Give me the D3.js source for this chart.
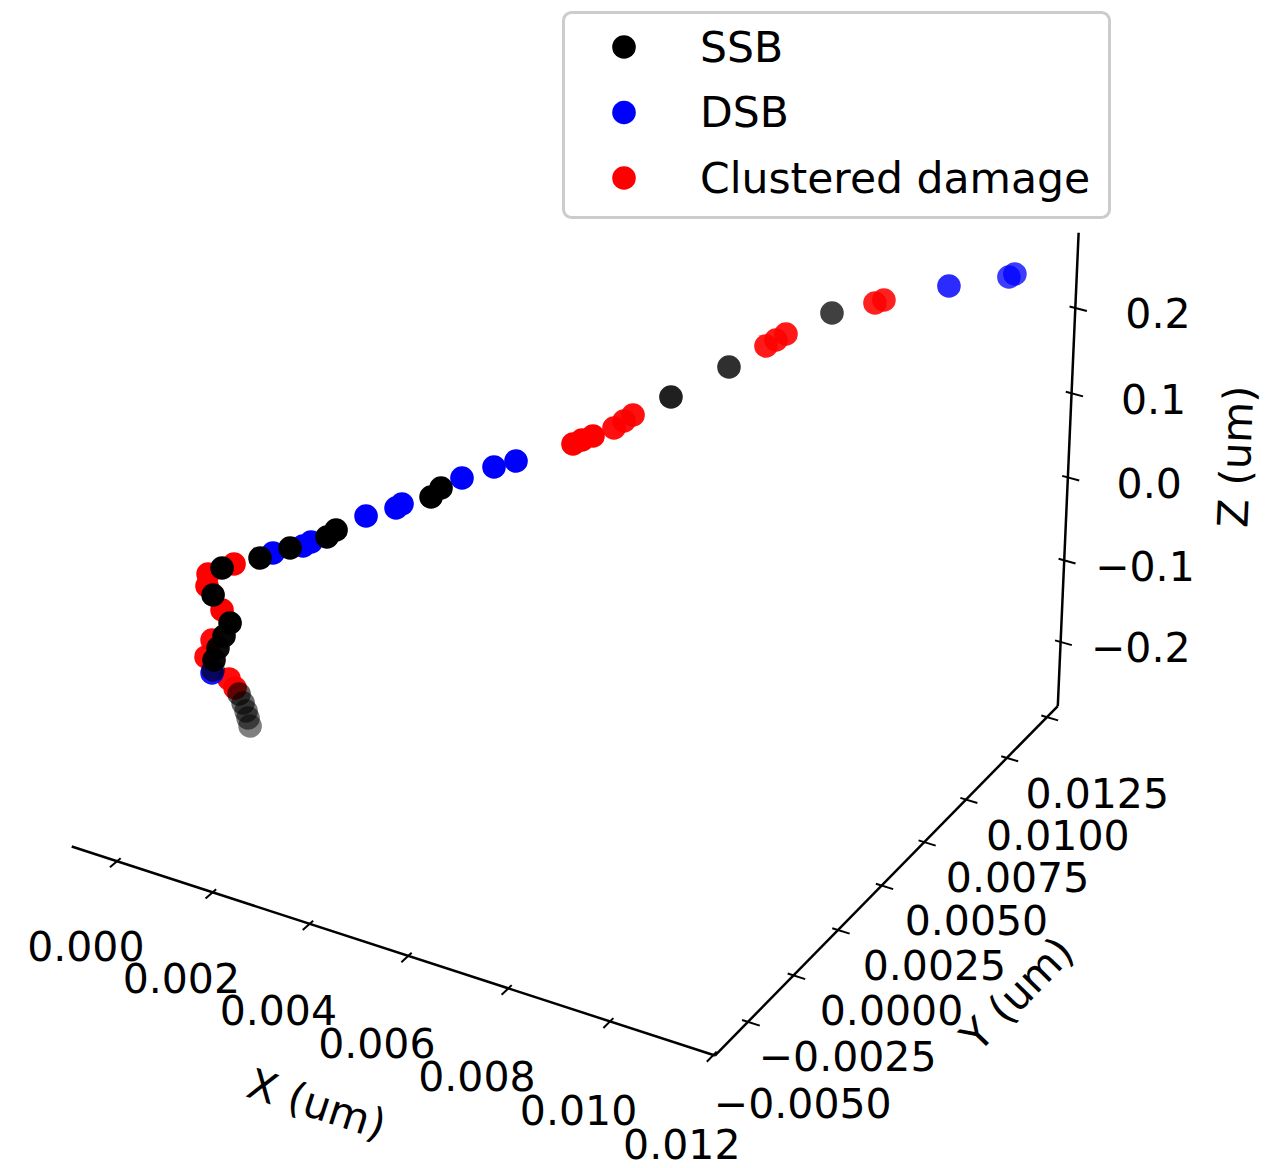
<!DOCTYPE html>
<html>
<head>
<meta charset="utf-8">
<script src="https://cdn.jsdelivr.net/npm/d3@7"></script>
<style>
  html, body { margin: 0; padding: 0; background: #ffffff; }
  svg { display: block; font-family: "DejaVu Sans", "Liberation Sans", sans-serif; }
</style>
</head>
<body>
<svg id="chart" width="1281" height="1168"></svg>
<script>
// ---- Damage sites along the DNA track: [x, y, z] in micrometres ----
const categories = ["SSB", "DSB", "Clustered damage"];
const colors = ["#000000", "#0000ff", "#ff0000"];

const ssb = [
  [0.008477, 0.009376, 0.20562], [0.007524, 0.006266, 0.18291], [0.007115, 0.004199, 0.17875],
  [0.004825, -0.001868, 0.14807], [0.004716, -0.002102, 0.14033], [0.003451, -0.003726, 0.11193],
  [0.003347, -0.003924, 0.10591], [0.002847, -0.004535, 0.09644], [0.002445, -0.005043, 0.08783],
  [0.001926, -0.005656, 0.07923], [0.001908, -0.006081, 0.05600], [0.002279, -0.006176, 0.03190],
  [0.002083, -0.006028, 0.01055], [0.001937, -0.005994, -0.00660], [0.001929, -0.006184, -0.01698],
  [-0.000208, -0.001325, -0.16238], [0.000302, -0.001254, -0.18399], [0.000137, -0.000683, -0.20934],
  [-0.000048, -0.000114, -0.23385], [0.000015, -0.000171, -0.24022], [-0.000184, 0.000383, -0.26483]
];

const dsb = [
  [0.011184, 0.012032, 0.24636], [0.011106, 0.011916, 0.24370], [0.010589, 0.009887, 0.26035],
  [0.005820, -0.000576, 0.17131], [0.005520, -0.000933, 0.16615], [0.005093, -0.001479, 0.15668],
  [0.004316, -0.002563, 0.13431], [0.004245, -0.002687, 0.13086], [0.003835, -0.003172, 0.12398],
  [0.003132, -0.004191, 0.10161], [0.003030, -0.004341, 0.09816], [0.002616, -0.004815, 0.09214],
  [0.001685, -0.005736, -0.04533]
];

const clustered = [
  [0.009896, 0.008161, 0.26351], [0.009774, 0.008007, 0.26089], [0.008712, 0.006052, 0.24316],
  [0.008588, 0.005850, 0.23793], [0.008464, 0.005648, 0.23270], [0.007014, 0.002418, 0.18855],
  [0.006905, 0.002230, 0.18335], [0.006786, 0.002017, 0.17729], [0.006853, 0.000720, 0.19282],
  [0.006707, 0.000530, 0.18938], [0.006591, 0.000367, 0.18594], [0.002086, -0.005453, 0.08268],
  [0.001744, -0.005908, 0.07407], [0.001780, -0.006058, 0.06374], [0.002105, -0.006134, 0.04309],
  [0.001814, -0.005982, 0.00032], [0.001797, -0.006255, -0.01438], [0.002234, -0.006203, -0.03341],
  [0.002362, -0.006227, -0.04120]
];

// ---- Axes ----
const xLimits = [-0.00096, 0.01203];
const yLimits = [-0.00678, 0.01319];
const zLimits = [-0.2795, 0.2869];
const xTicks = [0, 0.002, 0.004, 0.006, 0.008, 0.010, 0.012];
const yTicks = [-0.005, -0.0025, 0, 0.0025, 0.005, 0.0075, 0.010, 0.0125];
const zTicks = [-0.2, -0.1, 0, 0.1, 0.2];
const axisTitles = ["X (um)", "Y (um)", "Z (um)"];

// ---- View (elevation / azimuth in degrees, perspective eye distance) ----
const view = { elev: 30, azim: -60, dist: 10 };
const half = [0.5714, 0.5714, 0.4286];      // half box size for a 4:4:3 aspect
const zoom = 645, origin = [573.5, 540.6];  // pixel scale and centre of the box

const W = 1281, H = 1168;
const tickFont = 41, labelFont = 42, legendFont = 42.5;

const sx = d3.scaleLinear().domain(xLimits).range([-half[0], half[0]]);
const sy = d3.scaleLinear().domain(yLimits).range([-half[1], half[1]]);
const sz = d3.scaleLinear().domain(zLimits).range([-half[2], half[2]]);

const el = view.elev * Math.PI / 180, az = view.azim * Math.PI / 180;
const right = [-Math.sin(az), Math.cos(az), 0];
const up = [-Math.sin(el) * Math.cos(az), -Math.sin(el) * Math.sin(az), Math.cos(el)];
const toEye = [Math.cos(el) * Math.cos(az), Math.cos(el) * Math.sin(az), Math.sin(el)];
const dot = (a, b) => a[0] * b[0] + a[1] * b[1] + a[2] * b[2];

// box coordinates -> screen pixels (+ depth toward the viewer)
function projectBox(q) {
  const xs = dot(q, right), ys = dot(q, up), d = dot(q, toEye);
  const f = view.dist / (view.dist - d);
  return { x: origin[0] + zoom * xs * f, y: origin[1] - zoom * ys * f, depth: d };
}
function project(x, y, z) { return projectBox([sx(x), sy(y), sz(z)]); }

const svg = d3.select("#chart");
svg.append("rect").attr("width", W).attr("height", H).attr("fill", "#ffffff");

const [bx0, bx1] = sx.range(), [by0, by1] = sy.range(), [bz0, bz1] = sz.range();

// ---- axis lines ----
const axisG = svg.append("g").attr("stroke", "#000").attr("fill", "none");
function seg(g, a, b, w) {
  const p = projectBox(a), q = projectBox(b);
  g.append("line").attr("x1", p.x).attr("y1", p.y).attr("x2", q.x).attr("y2", q.y)
    .attr("stroke-width", w);
  return [p, q];
}
const xAxisEnds = seg(axisG, [bx0, by0, bz0], [bx1, by0, bz0], 2.5);
const yAxisEnds = seg(axisG, [bx1, by0, bz0], [bx1, by1, bz0], 2.5);
const zAxisEnds = seg(axisG, [bx1, by1, bz0], [bx1, by1, bz1], 2.5);

// ---- ticks ----
const tOut = 0.02, tIn = 0.01;
xTicks.forEach(v => seg(axisG, [sx(v), by0 - tOut, bz0], [sx(v), by0 + tIn, bz0], 2));
yTicks.forEach(v => seg(axisG, [bx1 + tOut, sy(v), bz0], [bx1 - tIn, sy(v), bz0], 2));
zTicks.forEach(v => seg(axisG, [bx1 + tOut, by1, sz(v)], [bx1 - tIn, by1, sz(v)], 2));

// ---- tick labels ----
const labelG = svg.append("g").attr("fill", "#000").attr("font-size", tickFont)
  .attr("text-anchor", "middle");
function centredText(g, p, txt, size, angle) {
  g.append("text")
    .attr("transform", `translate(${p.x},${p.y}) rotate(${angle || 0})`)
    .attr("y", 0.36 * size)
    .text(txt);
}
const fx = d3.format(".3f"), fy = d3.format(".4f"), fz = d3.format(".1f");
xTicks.forEach(v => centredText(labelG, projectBox([sx(v), by0 - 0.094, bz0 - 0.104]), fx(v), tickFont));
yTicks.forEach(v => centredText(labelG, projectBox([bx1 + 0.095, sy(v), bz0 - 0.115]), fy(v), tickFont));
zTicks.forEach(v => centredText(labelG, projectBox([bx1 + 0.119, by1 + 0.048, sz(v)]), fz(v), tickFont));

// ---- axis titles, turned along their axes ----
const angleOf = ([p, q]) => Math.atan2(q.y - p.y, q.x - p.x) * 180 / Math.PI;
const titleG = svg.append("g").attr("fill", "#000").attr("font-size", labelFont)
  .attr("text-anchor", "middle");
centredText(titleG, projectBox([0, by0 - 0.2014, bz0 - 0.1643]), axisTitles[0], labelFont, angleOf(xAxisEnds));
centredText(titleG, projectBox([bx1 + 0.2177, 0, bz0 - 0.1500]), axisTitles[1], labelFont, angleOf(yAxisEnds));
centredText(titleG, projectBox([bx1 + 0.2044, by1 + 0.1846, 0]), axisTitles[2], labelFont, angleOf(zAxisEnds));

// ---- scatter with depth shading ----
const series = [ssb, dsb, clustered];
const projected = series.map((pts, i) => pts.map(d => {
  const p = project(d[0], d[1], d[2]);
  return { ...p, cat: i };
}));
const allDepths = projected.flat().map(d => d.depth);
const shade = d3.scaleLinear().domain(d3.extent(allDepths)).range([0.5, 1]);

const pointR = 11.8;
[2, 1, 0].forEach(i => {
  const pts = projected[i].slice().sort((a, b) => a.depth - b.depth);
  svg.append("g").selectAll("circle").data(pts).join("circle")
    .attr("cx", d => d.x).attr("cy", d => d.y).attr("r", pointR)
    .attr("fill", colors[i])
    .attr("fill-opacity", d => shade(d.depth));
});

// ---- legend ----
const legend = svg.append("g");
legend.append("rect")
  .attr("x", 563.5).attr("y", 12.5).attr("width", 546).attr("height", 205).attr("rx", 8)
  .attr("fill", "#ffffff").attr("fill-opacity", 0.8)
  .attr("stroke", "#cccccc").attr("stroke-width", 3);
categories.forEach((name, i) => {
  const cy = 47 + i * 65.5;
  legend.append("circle").attr("cx", 624).attr("cy", cy).attr("r", pointR).attr("fill", colors[i]);
  legend.append("text").attr("x", 700).attr("y", cy + 0.345 * legendFont)
    .attr("font-size", legendFont).attr("fill", "#000").text(name);
});
</script>
</body>
</html>
